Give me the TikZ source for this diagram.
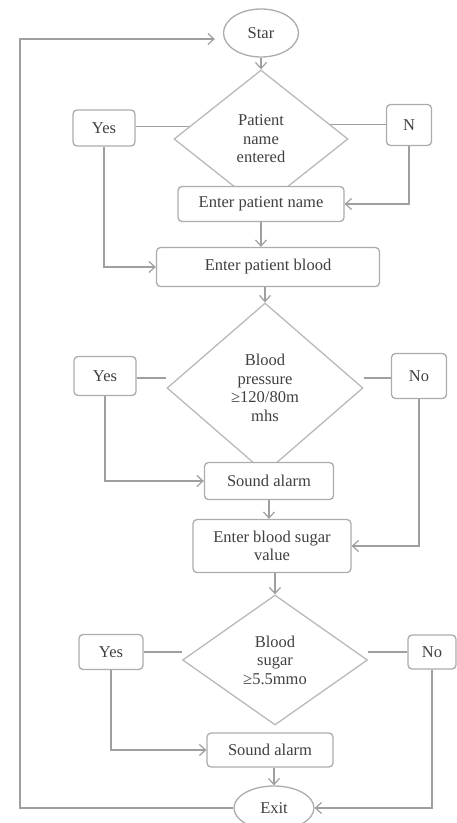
\documentclass[tikz,border=0pt]{standalone}
\usepackage{fontspec}
\setmainfont{Liberation Serif}
\usetikzlibrary{shapes.geometric,arrows.meta}
\tikzset{
    flowbox/.style={draw=gray!65, line width=1.3pt, rounded corners=4pt, fill=white, inner sep=0pt},
    decision/.style={diamond, draw=gray!55, line width=1.3pt, inner sep=0pt},
    terminal/.style={ellipse, draw=gray!65, line width=1.3pt, fill=white, inner sep=0pt},
    link/.style={draw=gray!75, line width=1.2pt},
}
\begin{document}
\begin{tikzpicture}[x=1pt, y=-1pt,
    >={Straight Barb[length=6pt,width=11pt]},
    every node/.style={font=\fontsize{16.5}{18.5}\selectfont, text=black!75, align=center}]
    \useasboundingbox (0,0) rectangle (457,823);

    % Start and first question
    \node[terminal, minimum width=75, minimum height=48] (startNode) at (261,33) {Star};
    \node[decision, minimum width=174, minimum height=138] (diamondA) at (261,139) {Patient\\name\\entered};
    \node[flowbox, minimum width=62, minimum height=36] (yesA) at (104,128) {Yes};
    \node[flowbox, minimum width=45, minimum height=41] (noA) at (409,125) {N};
    \node[flowbox, minimum width=166, minimum height=35] (nameBox) at (261,204) {Enter patient name};
    \node[flowbox, minimum width=223, minimum height=39] (bloodBox) at (268,267) {Enter patient blood};

    % Blood pressure
    \node[decision, minimum width=196, minimum height=170] (diamondB) at (265,388) {Blood\\pressure\\≥120/80m\\mhs};
    \node[flowbox, minimum width=62, minimum height=39] (yesB) at (105,376) {Yes};
    \node[flowbox, minimum width=55, minimum height=45] (noB) at (419,376) {No};
    \node[flowbox, minimum width=129, minimum height=37] (alarmA) at (269,481) {Sound alarm};
    \node[flowbox, minimum width=158, minimum height=53] (sugarBox) at (272,546) {Enter blood sugar\\value};

    % Blood sugar
    \node[decision, minimum width=185, minimum height=130] (diamondC) at (275,660) {Blood\\sugar\\≥5.5mmo};
    \node[flowbox, minimum width=64, minimum height=35] (yesC) at (111,652) {Yes};
    \node[flowbox, minimum width=48, minimum height=34] (noC) at (432,652) {No};
    \node[flowbox, minimum width=126, minimum height=34] (alarmB) at (270,750) {Sound alarm};
    \node[terminal, minimum width=80, minimum height=44] (exitNode) at (274,808) {Exit};

    % Free ends
    \coordinate (loopL) at (20,39);
    \coordinate (gapB) at (166,378);
    \coordinate (gapB2) at (364,378);

    % Connectors
    \draw[link, ->] (startNode) -- (diamondA);
    \draw[link] (diamondA.170) -- (diamondA.170 -| yesA.east);
    \draw[link] (diamondA.12) -- (diamondA.12 -| noA.west);
    \draw[link, ->] (noA.south) |- (nameBox.east);
    \draw[link, ->] (yesA.south) |- (bloodBox.west);
    \draw[link, ->] (nameBox.south) -- (nameBox.south |- bloodBox.north);
    \draw[link, ->] (bloodBox.south -| diamondB.north) -- (diamondB.north);
    \draw[link] (yesB.east |- gapB) -- (gapB);
    \draw[link] (gapB2) -- (gapB2 -| noB.west);
    \draw[link, ->] (yesB.south) |- (alarmA.west);
    \draw[link, ->] (noB.south) |- (sugarBox.east);
    \draw[link, ->] (alarmA.south) -- (alarmA.south |- sugarBox.north);
    \draw[link, ->] (sugarBox.south -| diamondC.north) -- (diamondC.north);
    \draw[link] (yesC.east) -- (yesC.east -| diamondC.west);
    \draw[link] (diamondC.east |- noC.west) -- (noC.west);
    \draw[link, ->] (yesC.south) |- (alarmB.west);
    \draw[link, ->] (noC.south) |- (exitNode.east);
    \draw[link, ->] (alarmB.south -| exitNode.north) -- (exitNode.north);
    \draw[link, ->, shorten >=8pt] (exitNode.west) -| (loopL) -- (loopL -| startNode.west);
\end{tikzpicture}
\end{document}
